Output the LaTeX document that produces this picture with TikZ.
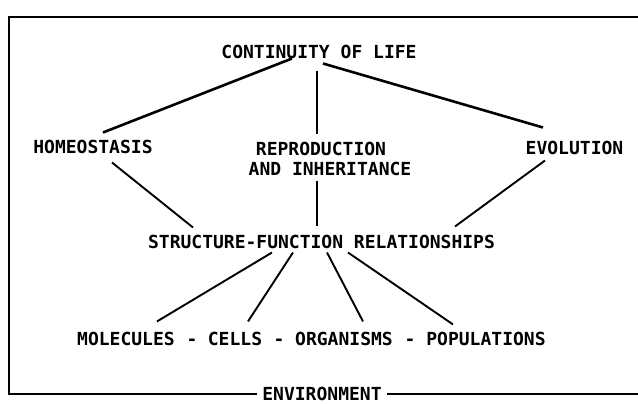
\documentclass[tikz,border=0pt]{standalone}
\usepackage{fontspec}
\setmonofont{DejaVu Sans Mono}
\usepackage{tikz}

\begin{document}
\begin{tikzpicture}[x=1pt, y=-1pt, every node/.style={font=\ttfamily\bfseries\fontsize{18}{20}\selectfont, inner sep=0pt, align=center}, level/.style={anchor=base}, trunk/.style={line width=2.6pt}, link/.style={line width=1.9pt}, frame/.style={line width=1.9pt}]
	\useasboundingbox (0,0) rectangle (638,404);
	% topics
	\node (life) at (319,51.5) {CONTINUITY OF LIFE};
	\node (homeo) at (93,146.5) {HOMEOSTASIS};
	\node (repro) at (321,148.5) {REPRODUCTION};
	\node (inher) at (330,168.5) {AND INHERITANCE};
	\node (evol) at (574.5,147.5) {EVOLUTION};
	\node (sfr) at (321.5,241.5) {STRUCTURE-FUNCTION RELATIONSHIPS};
	% levels
	\node[level] (mol) at (126,345) {MOLECULES};
	\node[level] (dashA) at (192,345) {-};
	\node[level] (cells) at (235,345) {CELLS};
	\node[level] (dashB) at (279,345) {-};
	\node[level] (org) at (344,345) {ORGANISMS};
	\node[level] (dashC) at (410,345) {-};
	\node[level] (pop) at (486,345) {POPULATIONS};
	\node[inner xsep=5pt] (env) at (322,394) {ENVIRONMENT};
	% frame
	\coordinate (topright) at (638,17);
	\coordinate (topleft) at (9,17);
	\coordinate (botright) at (638,394);
	\draw[frame] (topright) -- (topleft) |- (env.west);
	\draw[frame] (env.east) -- (botright);
	% connectors
	\draw[trunk] ([xshift=-27pt]life.south) -- ([xshift=10pt,yshift=7pt]homeo.north);
	\draw[link] ([xshift=-2pt,yshift=-12pt]life.south) -- ([xshift=-4pt,yshift=7pt]repro.north);
	\draw[trunk] ([xshift=4pt,yshift=-5pt]life.south) -- ([xshift=-31.5pt,yshift=13pt]evol.north);
	\draw[link] ([xshift=19pt,yshift=-9pt]homeo.south) -- ([xshift=-128.5pt,yshift=7pt]sfr.north);
	\draw[link] ([xshift=-13pt,yshift=-5pt]inher.south) -- ([xshift=-4.5pt,yshift=8pt]sfr.north);
	\draw[link] ([xshift=-29.5pt,yshift=-6pt]evol.south) -- ([xshift=133.5pt,yshift=8pt]sfr.north);
	\draw[link] ([xshift=-49.5pt,yshift=-4pt]sfr.south) -- ([xshift=31pt,yshift=10pt]mol.north);
	\draw[link] ([xshift=-28.5pt,yshift=-4pt]sfr.south) -- ([xshift=13pt,yshift=10pt]cells.north);
	\draw[link] ([xshift=5.5pt,yshift=-4pt]sfr.south) -- ([xshift=19pt,yshift=10pt]org.north);
	\draw[link] ([xshift=26.5pt,yshift=-4pt]sfr.south) -- ([xshift=-33pt,yshift=7pt]pop.north);
\end{tikzpicture}
\end{document}
